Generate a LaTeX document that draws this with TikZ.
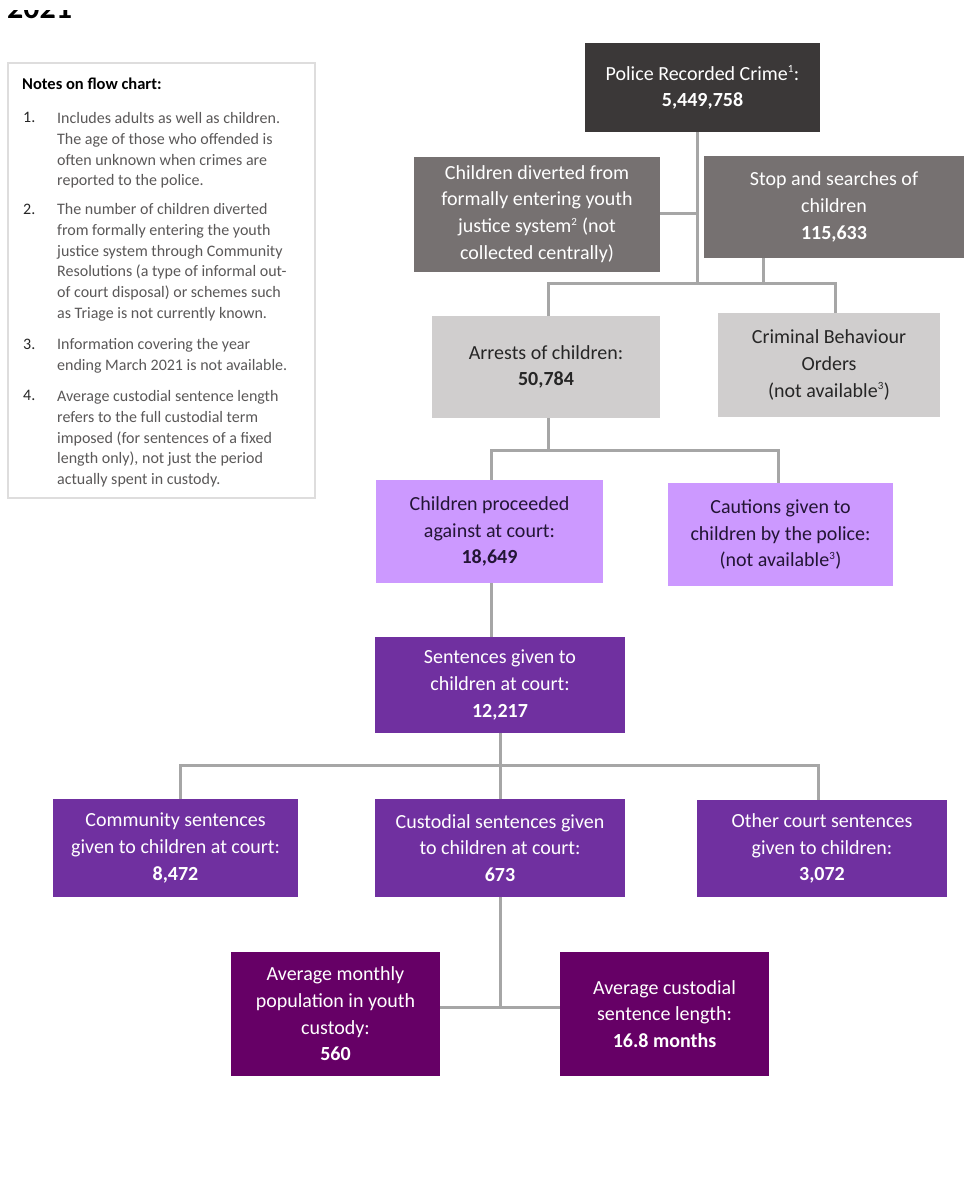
\documentclass[tikz,border=0pt]{standalone}
\usepackage{fontspec}
\setmainfont{Carlito}
\usetikzlibrary{calc}
\definecolor{policec}{HTML}{3B3838}
\definecolor{midgray}{HTML}{767171}
\definecolor{lightgray}{HTML}{D0CECE}
\definecolor{lilac}{HTML}{CC99FF}
\definecolor{purplec}{HTML}{7030A0}
\definecolor{plumc}{HTML}{660066}
\definecolor{connc}{HTML}{A6A6A6}
\definecolor{notetext}{HTML}{5A5858}
\definecolor{darktext}{HTML}{262626}
\definecolor{darkpurpletext}{HTML}{231535}
\newcommand\boxfont{\fontsize{20}{26.7}\selectfont}
\newcommand\notefont{\fontsize{16}{20.7}\selectfont}
\newcommand\supnum[1]{\textsuperscript{\fontsize{11}{12}\selectfont #1}}
\begin{document}
\begin{tikzpicture}[x=1pt,y=-1pt,
  fbox/.style={rectangle, inner sep=2pt, align=center, font=\boxfont},
  conn/.style={draw=connc, line width=3pt},
  notebody/.style={anchor=north west, inner sep=0pt, align=left, font=\notefont, text=notetext},
  notenum/.style={anchor=north west, inner sep=0pt, font=\notefont, text=darktext}]
\useasboundingbox (0,0) rectangle (964,1183);
\clip (0,0) rectangle (964,1183);
\fill[white] (0,0) rectangle (964,1183);

% cut-off year at top
\begin{scope}
\clip (0,10) rectangle (200,30);
\node[anchor=base west, inner sep=0pt, font=\fontsize{32}{34}\selectfont\bfseries] (year) at (7,18) {2021};
\end{scope}

% notes box
\node[draw=lightgray!70, line width=1.2pt, minimum width=307pt, minimum height=435pt, inner sep=0pt] (notes) at (161.5,280.5) {};
\node[anchor=north west, inner sep=0pt, font=\fontsize{16.5}{20.7}\selectfont\bfseries, text=black] (notetitle) at (22,77.5) {Notes on flow chart:};
\node[notenum] (n1) at (23,112.5) {1.};
\node[notebody] (t1) at (57,112.5) {Includes adults as well as children.\\The age of those who offended is\\often unknown when crimes are\\reported to the police.};
\node[notenum] (n2) at (23,203.5) {2.};
\node[notebody] (t2) at (57,203.5) {The number of children diverted\\from formally entering the youth\\justice system through Community\\Resolutions (a type of informal out-\\of court disposal) or schemes such\\as Triage is not currently known.};
\node[notenum] (n3) at (23,338.5) {3.};
\node[notebody] (t3) at (57,338.5) {Information covering the year\\ending March 2021 is not available.};
\node[notenum] (n4) at (23,390.5) {4.};
\node[notebody] (t4) at (57,390.5) {Average custodial sentence length\\refers to the full custodial term\\imposed (for sentences of a fixed\\length only), not just the period\\actually spent in custody.};

% boxes
\node[fbox, fill=policec, text=white, minimum width=235pt, minimum height=89pt] (police) at (702.5,87.5)
  {Police Recorded Crime\supnum{1}:\\\textbf{5,449,758}};
\node[fbox, fill=midgray, text=white, minimum width=246pt, minimum height=115pt] (diverted) at (537,214)
  {Children diverted from\\formally entering youth\\justice system\supnum{2} (not\\collected centrally)};
\node[fbox, fill=midgray, text=white, minimum width=260pt, minimum height=102pt] (stop) at (834,207)
  {Stop and searches of\\children\\\textbf{115,633}};
\node[fbox, fill=lightgray, text=darktext, minimum width=228pt, minimum height=102pt] (arrests) at (546,367)
  {Arrests of children:\\\textbf{50,784}};
\node[fbox, fill=lightgray, text=darktext, minimum width=222pt, minimum height=104pt] (cbo) at (829,365)
  {Criminal Behaviour\\Orders\\(not available\supnum{3})};
\node[fbox, fill=lilac, text=darkpurpletext, minimum width=227pt, minimum height=103pt] (proceeded) at (489.5,531.5)
  {Children proceeded\\against at court:\\\textbf{18,649}};
\node[fbox, fill=lilac, text=darkpurpletext, minimum width=225pt, minimum height=103pt] (cautions) at (780.5,534.5)
  {Cautions given to\\children by the police:\\(not available\supnum{3})};
\node[fbox, fill=purplec, text=white, minimum width=250pt, minimum height=96pt] (sentences) at (500,685)
  {Sentences given to\\children at court:\\\textbf{12,217}};
\node[fbox, fill=purplec, text=white, minimum width=245pt, minimum height=98pt] (community) at (175.5,848)
  {Community sentences\\given to children at court:\\\textbf{8,472}};
\node[fbox, fill=purplec, text=white, minimum width=250pt, minimum height=98pt] (custodial) at (500,848)
  {Custodial sentences given\\to children at court:\\\textbf{673}};
\node[fbox, fill=purplec, text=white, minimum width=250pt, minimum height=97pt] (other) at (822,848.5)
  {Other court sentences\\given to children:\\\textbf{3,072}};
\node[fbox, fill=plumc, text=white, minimum width=209pt, minimum height=124pt] (avgpop) at (335.5,1014)
  {Average monthly\\population in youth\\custody:\\\textbf{560}};
\node[fbox, fill=plumc, text=white, minimum width=209pt, minimum height=124pt] (avglen) at (664.5,1014)
  {Average custodial\\sentence length:\\\textbf{16.8 months}};

% junction points
\coordinate (t0) at (697,283);
\coordinate (b1) at (548,283);
\coordinate (b2) at (835,283);
\coordinate (s0) at (763,283);
\coordinate (a0) at (548,450);
\coordinate (a1) at (491,450);
\coordinate (a2) at (778,450);
\coordinate (p0) at (491,610);
\coordinate (c0) at (500,765);
\coordinate (c1) at (180,765);
\coordinate (c2) at (818,765);
\coordinate (e0) at (500,1007);

% connectors
\draw[conn] (police.south -| t0) -- (t0);
\draw[conn] (diverted.east |- 0,213) -- (t0 |- 0,213);
\draw[conn] (stop.south -| s0) -- (s0);
\draw[conn] (arrests.north -| b1) -- (b1) -- (b2) -- (cbo.north -| b2);
\draw[conn] (arrests.south -| a0) -- (a0);
\draw[conn] (proceeded.north -| a1) -- (a1) -- (a2) -- (cautions.north -| a2);
\draw[conn] (proceeded.south -| p0) -- (sentences.north -| p0);
\draw[conn] (sentences.south -| c0) -- (c0);
\draw[conn] (community.north -| c1) -- (c1) -- (c2) -- (other.north -| c2);
\draw[conn] (c0) -- (custodial.north -| c0);
\draw[conn] (custodial.south -| e0) -- (e0);
\draw[conn] (avgpop.east |- e0) -- (avglen.west |- e0);
\end{tikzpicture}
\end{document}
